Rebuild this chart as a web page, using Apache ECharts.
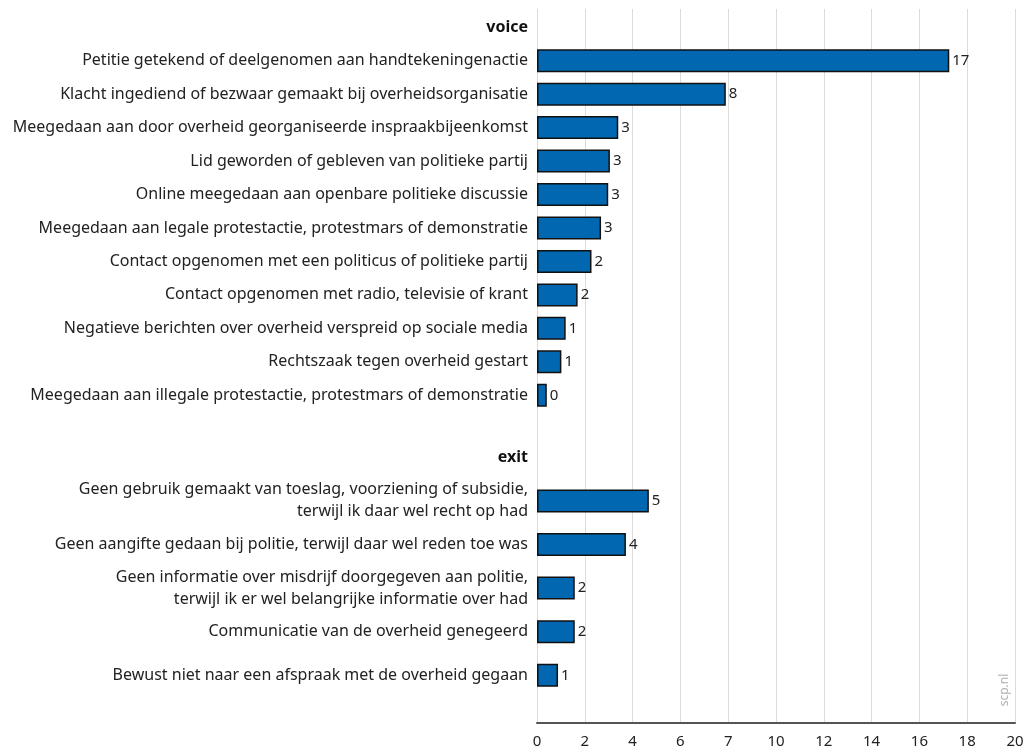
<!DOCTYPE html>
<html>
<head>
<meta charset="utf-8">
<script src="https://cdn.jsdelivr.net/npm/echarts@6/dist/echarts.min.js"></script>
<style>
html,body{margin:0;padding:0;background:#fff;}
#chart{width:1027px;height:753px;}
</style>
</head>
<body>
<div id="chart"></div>
<script>
const voiceHeader = 'voice';
const voiceCategories = [
  'Petitie getekend of deelgenomen aan handtekeningenactie',
  'Klacht ingediend of bezwaar gemaakt bij overheidsorganisatie',
  'Meegedaan aan door overheid georganiseerde inspraakbijeenkomst',
  'Lid geworden of gebleven van politieke partij',
  'Online meegedaan aan openbare politieke discussie',
  'Meegedaan aan legale protestactie, protestmars of demonstratie',
  'Contact opgenomen met een politicus of politieke partij',
  'Contact opgenomen met radio, televisie of krant',
  'Negatieve berichten over overheid verspreid op sociale media',
  'Rechtszaak tegen overheid gestart',
  'Meegedaan aan illegale protestactie, protestmars of demonstratie'
];
const voiceValues = [17.25, 7.9, 3.4, 3.05, 2.98, 2.68, 2.28, 1.7, 1.2, 1.02, 0.41];

const exitHeader = 'exit';
const exitCategories = [
  'Geen gebruik gemaakt van toeslag, voorziening of subsidie,\nterwijl ik daar wel recht op had',
  'Geen aangifte gedaan bij politie, terwijl daar wel reden toe was',
  'Geen informatie over misdrijf doorgegeven aan politie,\nterwijl ik er wel belangrijke informatie over had',
  'Communicatie van de overheid genegeerd',
  'Bewust niet naar een afspraak met de overheid gegaan'
];
const exitValues = [4.68, 3.72, 1.58, 1.58, 0.88];

const xTickLabels = ['0', '2', '4', '6', '7', '10', '12', '14', '16', '18', '20'];

const FONT = 'Noto Sans';
const barColor = '#0067b0';
const gridLeft = 537, gridRight = 12;

function catAxis(gridIndex, header, cats) {
  return {
    type: 'category', gridIndex: gridIndex, inverse: true,
    data: [header].concat(cats),
    axisLine: {show: false}, axisTick: {show: false}, splitLine: {show: false},
    axisLabel: {
      margin: 9, fontFamily: FONT, fontSize: 16, color: '#222', lineHeight: 22,
      formatter: function (v) { return v === header ? '{h|' + v + '}' : v; },
      rich: {h: {fontWeight: 'bold', fontFamily: FONT, fontSize: 16, color: '#111'}}
    }
  };
}
function hiddenX(gridIndex) {
  return {type: 'value', gridIndex: gridIndex, min: 0, max: 20, interval: 2, show: false};
}
function barSeries(idx, vals) {
  return {
    type: 'bar', xAxisIndex: idx, yAxisIndex: idx, barWidth: 23,
    data: [null].concat(vals),
    itemStyle: {color: barColor, borderColor: '#111', borderWidth: 1.5},
    label: {
      show: true, position: 'right', distance: 3, fontFamily: FONT, fontSize: 15, color: '#222',
      formatter: function (p) { return String(Math.round(p.value)); }
    },
    silent: true, animation: false
  };
}

const chart = echarts.init(document.getElementById('chart'), null, {renderer: 'canvas'});
chart.setOption({
  backgroundColor: '#fff',
  animation: false,
  grid: [
    {left: gridLeft, right: gridRight, top: 9, bottom: 30},
    {left: gridLeft, right: gridRight, top: 10.5, height: 401.5},
    {left: gridLeft, right: gridRight, top: 435.5, height: 261.6}
  ],
  xAxis: [
    {
      type: 'value', gridIndex: 0, min: 0, max: 20, interval: 2,
      axisLine: {show: true, lineStyle: {color: '#555', width: 2}},
      axisTick: {show: false},
      splitLine: {show: true, lineStyle: {color: '#dcdcdc', width: 1}},
      axisLabel: {
        margin: 11, fontFamily: FONT, fontSize: 15, color: '#222',
        formatter: function (v) { return xTickLabels[Math.round(v / 2)]; }
      }
    },
    hiddenX(1), hiddenX(2)
  ],
  yAxis: [
    {type: 'value', gridIndex: 0, min: 0, max: 1, show: false},
    catAxis(1, voiceHeader, voiceCategories),
    catAxis(2, exitHeader, exitCategories)
  ],
  series: [
    {type: 'bar', xAxisIndex: 0, yAxisIndex: 0, data: [], silent: true},
    barSeries(1, voiceValues),
    barSeries(2, exitValues)
  ],
  graphic: [{
    type: 'text', x: 1005, y: 690, rotation: Math.PI / 2,
    style: {text: 'scp.nl', fill: '#b0b0b0', font: '12px "Noto Sans"', textAlign: 'center', textVerticalAlign: 'middle'}
  }]
});
</script>
</body>
</html>
